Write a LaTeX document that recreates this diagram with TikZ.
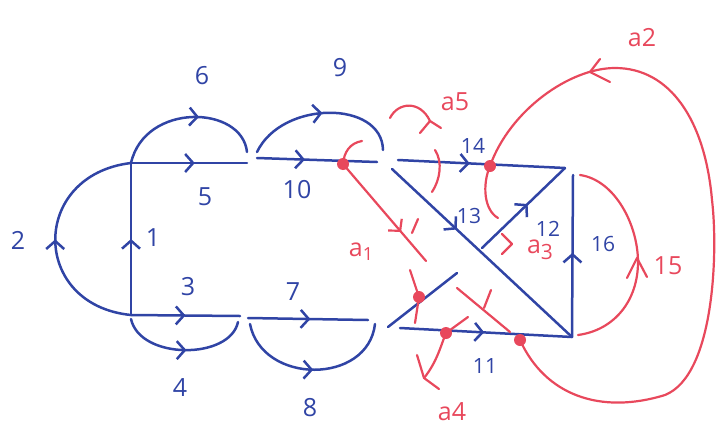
\documentclass[tikz,border=0pt]{standalone}
\usepackage{fontspec}
\setmainfont{Open Sans}
\usetikzlibrary{arrows.meta,decorations.markings}
\definecolor{pblue}{RGB}{48,68,165}
\definecolor{pred}{RGB}{232,72,92}
\tikzset{
 bl/.style={color=pblue, line width=2.5pt, line cap=round, line join=round},
 rd/.style={color=pred, line width=2.2pt, line cap=round, line join=round},
 arr/.style={postaction={decorate, decoration={markings, mark=at position #1 with {\arrow{Straight Barb[length=8pt,width=18pt]}}}}},
 lb/.style={text=pblue, font=\fontsize{25}{27}\selectfont, inner sep=0pt},
 lr/.style={text=pred, font=\fontsize{25}{27}\selectfont, inner sep=0pt},
 rdot/.style={circle, fill=pred, inner sep=0pt, minimum size=12pt},
}
\begin{document}
\begin{tikzpicture}[x=1pt,y=-1pt]
\useasboundingbox (0,0) rectangle (720,434);
% ---------- blue coordinates
\coordinate (A) at (131,163);
\coordinate (B) at (131,315);
\coordinate (C) at (247,163);
\coordinate (C6) at (247,152);
\coordinate (D) at (240,316);
\coordinate (D4) at (238,322);
\coordinate (E1) at (257,158);
\coordinate (E9) at (257,152);
\coordinate (F) at (377,162);
\coordinate (F9) at (383,150);
\coordinate (G1) at (248,318);
\coordinate (G8) at (250,324);
\coordinate (H) at (368,320);
\coordinate (H8) at (375,324);
\coordinate (I14) at (398,160);
\coordinate (I13) at (392,169);
\coordinate (J) at (565,168);
\coordinate (K) at (572,337);
\coordinate (K16) at (573,175);
\coordinate (L11) at (400,328);
\coordinate (L12) at (388,327);
\coordinate (M12) at (457,273);
\coordinate (N12) at (482,248);
% ---------- blue edges
\draw[bl, arr=0.55] (A) -- (C);                                                   % 5
\draw[bl, arr=0.58] (A) .. controls (145,102) and (242,105) .. (C6);               % 6
\draw[bl, arr=0.5] (B) .. controls (30,305) and (30,175) .. (A);                  % 2
\draw[bl, arr=0.5] (B) -- (A);                                                    % 1
\draw[bl, arr=0.5] (B) -- (D);                                                    % 3
\draw[bl, arr=0.52] ([yshift=-4pt]B) .. controls (140,360) and (230,360) .. (D4);  % 4
\draw[bl, arr=0.52] (G1) -- (H);                                                  % 7
\draw[bl, arr=0.5] (G8) .. controls (262,385) and (368,385) .. (H8);              % 8
\draw[bl, arr=0.4] (E1) -- (F);                                                   % 10
\draw[bl, arr=0.5] (E9) .. controls (282,100) and (382,100) .. (F9);              % 9
\draw[bl, arr=0.43] (I14) -- (J);                                                 % 14
\draw[bl, arr=0.36] (I13) -- (K);                                                 % 13
\draw[bl] (L12) -- (M12);                                                         % 12 lower
\draw[bl, arr=0.55] (N12) -- (J);                                                 % 12 upper
\draw[bl, arr=0.52] (K) -- (K16);                                                 % 16
\draw[bl, arr=0.49] (L11) -- (K);                                                 % 11
% ---------- blue labels
\node[lb] (l2) at (18,240) {2};
\node[lb] (l1) at (153,238) {1};
\node[lb] (l5) at (205,197) {5};
\node[lb] (l6) at (202,76) {6};
\node[lb] (l3) at (188,287) {3};
\node[lb] (l4) at (180,388) {4};
\node[lb] (l7) at (293,292) {7};
\node[lb] (l8) at (310,408) {8};
\node[lb] (l10) at (297,190) {10};
\node[lb] (l9) at (340,68) {9};
\node[lb, font=\fontsize{21}{23}\selectfont] (l14) at (473,146) {14};
\node[lb, font=\fontsize{21}{23}\selectfont] (l13) at (469,216) {13};
\node[lb, font=\fontsize{21}{23}\selectfont] (l12) at (548,229) {12};
\node[lb, font=\fontsize{21}{23}\selectfont] (l16) at (603,244) {16};
\node[lb, font=\fontsize{21}{23}\selectfont] (l11) at (485,366) {11};
% ---------- red dots
\node[rdot] (d1) at (343,164) {};
\node[rdot] (d2) at (490,166) {};
\node[rdot] (d3) at (419,297) {};
\node[rdot] (d4) at (446,333) {};
\node[rdot] (d5) at (520,340) {};
% ---------- red coordinates
\coordinate (a1e) at (426,261);
\coordinate (r1s) at (362,141);
\coordinate (r5s) at (390,118);
\coordinate (r5e) at (430,121);
\coordinate (rps) at (435,150);
\coordinate (rpe) at (432,192);
\coordinate (r3e) at (498,218);
\coordinate (r3t) at (512,244);
\coordinate (rvs) at (410,270);
\coordinate (rve) at (415,323);
\coordinate (r4s) at (468,317);
\coordinate (r4e) at (424,378);
\coordinate (rds) at (457,288);
\coordinate (rde) at (510,332);
\coordinate (r15s) at (580,175);
\coordinate (r15e) at (578,335);
\coordinate (r2t) at (590,72);
% ---------- red paths
\draw[rd, arr=0.7] (d1.center) -- (a1e);                                          % a1
\draw[rd] (418,219) -- (412,233);                                                 % tick on a1
\draw[rd] (r1s) .. controls (350,143) and (344,152) .. (d1.center);
\draw[rd] (r5s) .. controls (398,102) and (420,100) .. (r5e);                     % a5
\draw[rd] (420,133) -- (r5e) -- (441,128);
\draw[rd] (rps) .. controls (443,162) and (440,180) .. (rpe);
\draw[rd] (d2.center) .. controls (482,185) and (484,210) .. (r3e);               % a3
\draw[rd] (502,234) -- (r3t) -- (502,254);
\draw[rd] (rvs) -- (d3.center) -- (rve);
\draw[rd] (r4s) -- (d4.center) .. controls (441,345) and (437,362) .. (r4e);      % a4
\draw[rd] (417,355) -- (r4e) -- (439,389);
\draw[rd] (rds) -- (rde);
\draw[rd] (484,308) -- (491,290);
\draw[rd] (r15s) .. controls (615,180) and (638,225) .. (638,262) .. controls (638,300) and (615,330) .. (r15e); % 15
\draw[rd] (627,278) -- (637,258) -- (647,277);
\draw[rd] (d5.center) .. controls (545,395) and (600,415) .. (665,395)
  .. controls (715,375) and (718,250) .. (712,200)
  .. controls (705,120) and (670,68) .. (615,68)
  .. controls (570,68) and (510,110) .. (d2.center);                              % a2
\draw[rd] (600,59) -- (r2t) -- (610,82);
% ---------- red labels
\node[lr] (la1) at (361,252) {a\raisebox{-4pt}{\fontsize{18}{18}\selectfont 1}};
\node[lr] (la2) at (642,38) {a2};
\node[lr] (la3) at (540,250) {a\raisebox{-6pt}{\fontsize{21}{21}\selectfont 3}};
\node[lr] (la4) at (452,412) {a4};
\node[lr] (la5) at (455,102) {a5};
\node[lr] (l15) at (668,266) {15};
\end{tikzpicture}
\end{document}
